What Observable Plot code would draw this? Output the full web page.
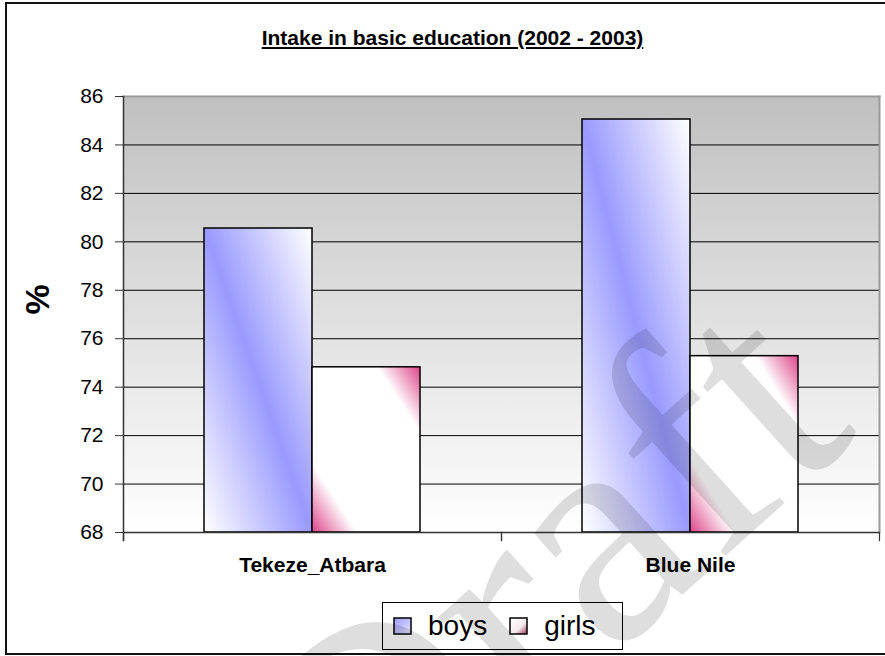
<!DOCTYPE html>
<html>
<head>
<meta charset="utf-8">
<script src="https://cdn.jsdelivr.net/npm/d3@7"></script>
<script src="https://cdn.jsdelivr.net/npm/@observablehq/plot@0.6"></script>
<style>
  body { margin: 0; background: #fff; font-family: Arial, "Liberation Sans", sans-serif; }
  #page { position: relative; width: 885px; height: 656px; overflow: hidden; background: #fff; }
  #border { position: absolute; left: 5px; top: 2px; width: 900px; height: 649px; border: 2px solid #111; }
  #title { position: absolute; left: 0; width: 905px; top: 26px; text-align: center; font-size: 21px; font-weight: bold; text-decoration: underline; color: #000; }
  #chart { position: absolute; left: 0; top: 70px; }
  #legend { position: absolute; left: 382px; top: 602px; width: 239px; height: 46px; border: 1px solid #000; background: #fff;
            display: flex; align-items: center; font-size: 28px; color: #000; }
  #legend .item { display: flex; align-items: center; }
  #legend svg { display: block; }
  #wm { position: absolute; left: 0; top: 0; pointer-events: none; }
</style>
</head>
<body>
<svg width="0" height="0" style="position:absolute">
  <defs>
    <linearGradient id="bgGrad" x1="0" y1="0" x2="0" y2="1">
      <stop offset="0" stop-color="#c0c0c0"/>
      <stop offset="1" stop-color="#ffffff"/>
    </linearGradient>
    <linearGradient id="boysGrad" x1="0" y1="1" x2="1" y2="0">
      <stop offset="0" stop-color="#ffffff"/>
      <stop offset="0.5" stop-color="#9999ff"/>
      <stop offset="1" stop-color="#ffffff"/>
    </linearGradient>
    <linearGradient id="girlsGrad" x1="0" y1="1" x2="1" y2="0">
      <stop offset="0" stop-color="#dd4488"/>
      <stop offset="0.21" stop-color="#ffffff"/>
      <stop offset="0.8" stop-color="#ffffff"/>
      <stop offset="1" stop-color="#dd4488"/>
    </linearGradient>
    <linearGradient id="boysSw" x1="0" y1="0" x2="1" y2="1">
      <stop offset="0" stop-color="#9999ff"/>
      <stop offset="1" stop-color="#e8e8ff"/>
    </linearGradient>
    <linearGradient id="girlsSw" x1="0" y1="0" x2="1" y2="1">
      <stop offset="0" stop-color="#ffffff"/>
      <stop offset="0.6" stop-color="#f4e8ec"/>
      <stop offset="1" stop-color="#993355"/>
    </linearGradient>
  </defs>
</svg>
<div id="page">
  <div id="border"></div>
  <div id="title"></div>
  <div id="chart"></div>
  <div id="legend"></div>
  <svg id="wm" width="885" height="656">
    <text x="0" y="0" transform="translate(610,660) rotate(-42)" text-anchor="middle"
          font-family="'Liberation Serif', 'Times New Roman', serif" font-size="320" fill="#000" fill-opacity="0.13">Draft</text>
  </svg>
</div>
<script>
// ---- data ----
const categories = ["Tekeze_Atbara", "Blue Nile"];
const series = ["boys", "girls"];
const boys = [80.55, 85.05];
const girls = [74.82, 75.28];
const yTicks = [68, 70, 72, 74, 76, 78, 80, 82, 84, 86];
const title = "Intake in basic education (2002 - 2003)";
const yLabel = "%";

const seriesFill = { boys: "url(#boysGrad)", girls: "url(#girlsGrad)" };
const swatchFill = { boys: "url(#boysSw)", girls: "url(#girlsSw)" };

const rows = categories.flatMap((c, i) => [
  { category: c, series: "boys", value: boys[i] },
  { category: c, series: "girls", value: girls[i] }
]);

const yMin = yTicks[0], yMax = yTicks[yTicks.length - 1];
const W = 885, H = 520, mT = 26, mB = 58, mL = 123, mR = 6;
const innerH = H - mT - mB;

const chart = Plot.plot({
  width: W, height: H,
  marginTop: mT, marginBottom: mB, marginLeft: mL, marginRight: mR,
  style: { fontFamily: "Arial, 'Liberation Sans', sans-serif", color: "#000", background: "transparent", overflow: "visible" },
  fx: { domain: categories, padding: 0, label: null, axis: null },
  x: { domain: series, paddingInner: 0, paddingOuter: 0.75, axis: null },
  y: { domain: [yMin, yMax], label: null },
  marks: [
    Plot.frame({ facet: "super", fill: "url(#bgGrad)" }),
    Plot.ruleY(yTicks.filter(t => t > yMin && t < yMax), { stroke: "#000", strokeWidth: 1 }),
    Plot.frame({ facet: "super", anchor: "top", stroke: "#999", strokeWidth: 2 }),
    Plot.frame({ facet: "super", anchor: "right", stroke: "#999", strokeWidth: 2 }),
    ...series.map(s => Plot.barY(rows.filter(d => d.series === s), {
      fx: "category", x: "series", y1: yMin, y2: "value",
      fill: seriesFill[s], stroke: "#000", strokeWidth: 1.5
    })),
    Plot.ruleY([yMin], { stroke: "#333", strokeWidth: 1.5 }),
    Plot.frame({ facet: "super", anchor: "left", stroke: "#333", strokeWidth: 1.5, insetBottom: -8 }),
    Plot.frame({ anchor: "left", stroke: "#333", strokeWidth: 1.2, insetTop: innerH, insetBottom: -8 }),
    Plot.frame({ anchor: "right", stroke: "#333", strokeWidth: 1.2, insetTop: innerH, insetBottom: -8 }),
    Plot.axisY({ ticks: yTicks, tickSize: 8, tickPadding: 12, fontSize: 21, label: null, stroke: "#333" }),
    Plot.axisFx({ anchor: "bottom", tickSize: 0, tickPadding: 25, fontSize: 21, fontWeight: "bold", label: null }),
    Plot.text([yLabel], { facet: "super", frameAnchor: "left", rotate: -90, dx: -85, fontSize: 34, fontWeight: "bold" })
  ]
});
document.getElementById("chart").appendChild(chart);
document.getElementById("title").textContent = title;

// legend
const legend = d3.select("#legend");
series.forEach((s, i) => {
  const item = legend.append("div").attr("class", "item")
    .style("margin-left", i === 0 ? "10px" : "22px");
  const sw = item.append("svg").attr("width", 19).attr("height", 18);
  sw.append("rect").attr("x", 1).attr("y", 1).attr("width", 17).attr("height", 16)
    .attr("fill", swatchFill[s]).attr("stroke", "#000").attr("stroke-width", 1.5);
  item.append("span").style("margin-left", "16px").text(s);
});
</script>
</body>
</html>
